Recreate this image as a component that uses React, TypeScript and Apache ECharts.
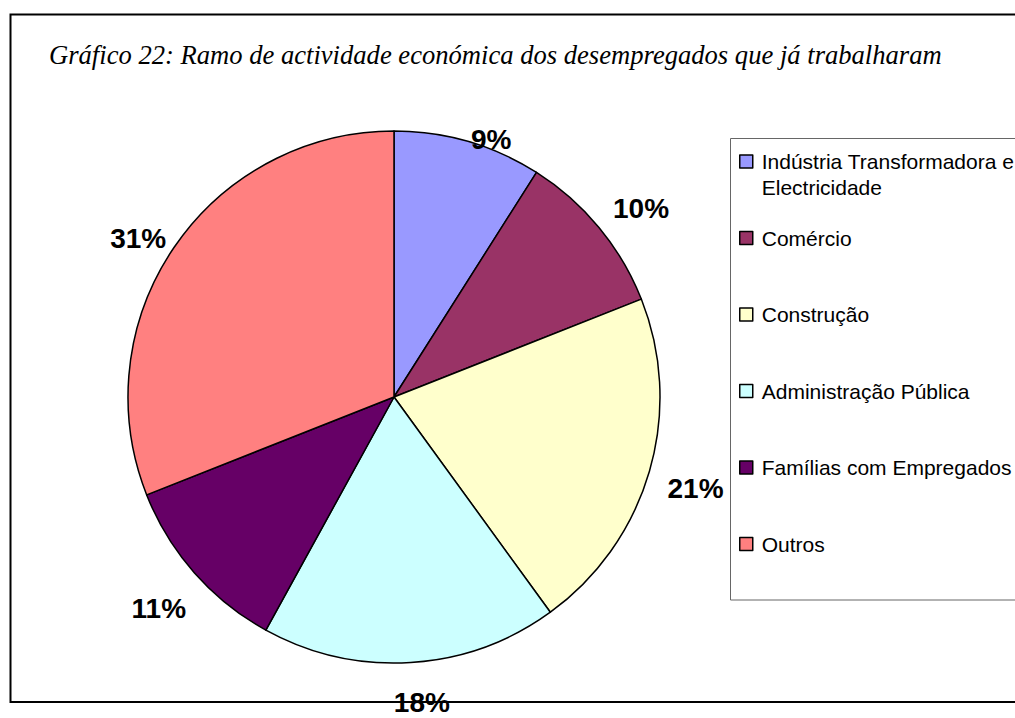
import React, { useEffect, useRef } from 'react';
import * as echarts from 'echarts';

const titleText = 'Gráfico 22: Ramo de actividade económica dos desempregados que já trabalharam';
const categories = [
  'Indústria Transformadora e\nElectricidade',
  'Comércio',
  'Construção',
  'Administração Pública',
  'Famílias com Empregados',
  'Outros',
];
const values = [9, 10, 21, 18, 11, 31];
const colors = ['#9999FF', '#993366', '#FFFFCC', '#CCFFFF', '#660066', '#FF8080'];

// layout / style constants
const CENTER = [394, 397];
const RADIUS = 266;
const LABEL_DIST = [275, 311, 315, 307, 316, 301];
const LABEL_NUDGE = [4.5, 2.2, 0.6, -1.6, -0.5, -2.4];
const LEGEND_LH = 26;

export default function App() {
  const ref = useRef<HTMLDivElement>(null);
  useEffect(() => {
    document.body.style.margin = '0';
    const chart = echarts.init(ref.current!, null, { renderer: 'svg' });
    const total = values.reduce((a, b) => a + b, 0);
    chart.setOption({
      animation: false,
      backgroundColor: '#fff',
      title: {
        text: titleText,
        left: 49,
        top: 41,
        padding: 0,
        textStyle: {
          fontFamily: '"Liberation Serif", "Times New Roman", serif',
          fontStyle: 'italic',
          fontWeight: 'normal',
          fontSize: 26.6,
          color: '#000',
        },
      },
      legend: {
        orient: 'vertical',
        left: 739,
        top: 161.5 - 1.5 * LEGEND_LH,
        padding: 0,
        icon: 'rect',
        itemWidth: 13,
        itemHeight: 13,
        itemGap: 76.5 - 3 * LEGEND_LH,
        data: categories,
        formatter: (name: string) => (name.includes('\n') ? '\n' + name : '\n' + name + '\n'),
        textStyle: {
          fontFamily: '"Liberation Sans", Arial, sans-serif',
          fontSize: 21,
          lineHeight: LEGEND_LH,
          color: '#000',
          padding: [0, 0, 0, 4],
        },
        itemStyle: { borderColor: '#000', borderWidth: 1.5 },
      },
      graphic: [
        {
          type: 'rect',
          shape: { x: 10.5, y: 14.5, width: 1100, height: 687.5 },
          style: { fill: 'none', stroke: '#000', lineWidth: 2 },
          z: 0,
        },
        {
          type: 'rect',
          shape: { x: 730.5, y: 138.5, width: 400, height: 461.5 },
          style: { fill: 'none', stroke: '#666', lineWidth: 1 },
          z: 0,
        },
      ],
      series: [
        {
          type: 'pie',
          center: CENTER,
          radius: RADIUS,
          startAngle: 90,
          clockwise: true,
          z: 5,
          data: categories.map((c, i) => ({ name: c, value: values[i], itemStyle: { color: colors[i] } })),
          itemStyle: { borderColor: '#000', borderWidth: 1.5 },
          emphasis: { disabled: true },
          label: {
            show: true,
            position: 'outside',
            formatter: (p: any) => Math.round(p.percent) + '%',
            fontFamily: '"Liberation Sans", Arial, sans-serif',
            fontWeight: 'bold',
            fontSize: 28,
            color: '#000',
          },
          labelLine: { show: false },
          labelLayout: (p: any) => {
            const i = p.dataIndex;
            let before = 0;
            for (let k = 0; k < i; k++) before += values[k];
            const ang = (((before + values[i] / 2) / total) * 360 + LABEL_NUDGE[i]) * Math.PI / 180;
            return {
              x: CENTER[0] + LABEL_DIST[i] * Math.sin(ang),
              y: CENTER[1] - LABEL_DIST[i] * Math.cos(ang),
              align: 'center',
              verticalAlign: 'middle',
            };
          },
        },
      ],
    });
    return () => chart.dispose();
  }, []);
  return <div ref={ref} style={{ width: 1015, height: 718 }} />;
}
